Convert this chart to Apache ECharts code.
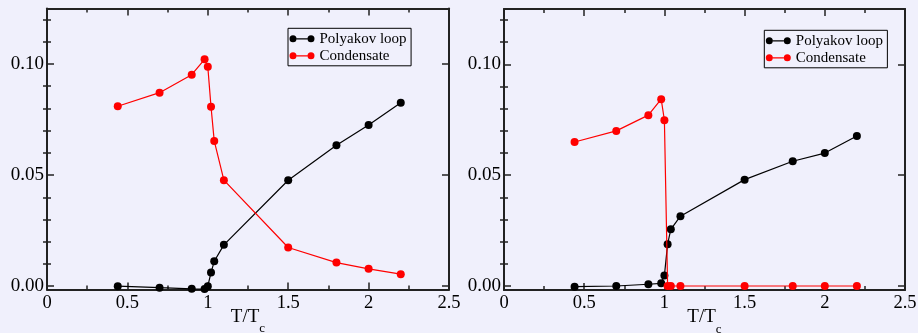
<!DOCTYPE html>
<html>
<head>
<meta charset="utf-8">
<script src="https://cdn.jsdelivr.net/npm/echarts@6/dist/echarts.min.js"></script>
<style>
html,body{margin:0;padding:0;background:#f0f0fc;}
#chart{width:918px;height:333px;}
</style>
</head>
<body>
<div id="chart"></div>
<script>
// ---- data ----
const temps = [0.44, 0.7, 0.9, 0.98, 1.0, 1.02, 1.04, 1.1, 1.5, 1.8, 2.0, 2.2];
const polyakovLeft = [0.0000, -0.0007, -0.0012, -0.0013, 0.0000, 0.0061, 0.0112, 0.0186, 0.0477, 0.0634, 0.0726, 0.0826];
const condensateLeft = [0.0810, 0.0871, 0.0952, 0.1021, 0.0988, 0.0808, 0.0654, 0.0477, 0.0174, 0.0106, 0.0078, 0.0054];
const polyakovRight = [-0.0003, 0.0000, 0.0008, 0.0012, 0.0047, 0.0189, 0.0256, 0.0315, 0.0480, 0.0563, 0.0600, 0.0677];
const condensateRight = [0.0650, 0.0700, 0.0771, 0.0843, 0.0748, 0, 0, 0, 0, 0, 0, 0];
const xTicks = [0, 0.5, 1, 1.5, 2, 2.5];
const yMajorTicks = [0, 0.05, 0.10];
const yMinorTicks = [0.01, 0.02, 0.03, 0.04, 0.06, 0.07, 0.08, 0.09, 0.11, 0.12];
const seriesNames = ['Polyakov loop', 'Condensate'];

// ---- styling ----
const FONT = 'Liberation Serif';
const AX = '#222';
const legendIcon = 'path://M0,3.5A3.5,3.5 0 1 1 7,3.5A3.5,3.5 0 1 1 0,3.5Z M18,3.5A3.5,3.5 0 1 1 25,3.5A3.5,3.5 0 1 1 18,3.5Z M7,2.9L18,2.9L18,4.1L7,4.1Z';

const grids = [
  {left: 47, top: 8.5, width: 402, height: 281, ymin: -0.0015},
  {left: 504, top: 9, width: 401, height: 281, ymin: -0.0018}
];

const option = {
  backgroundColor: '#f0f0fc',
  animation: false,
  grid: grids.map(g => ({left: g.left, top: g.top, width: g.width, height: g.height,
    containLabel: false, outerBoundsMode: 'none'})),
  legend: [
    {left: 288, top: 28.3},
    {left: 764.3, top: 30.3}
  ].map(p => ({
    left: p.left, top: p.top, orient: 'vertical',
    data: seriesNames.map(n => ({name: n, icon: legendIcon})),
    itemWidth: 25, itemHeight: 7, itemGap: 2,
    padding: [3, 4.5, 2.5, 1.5],
    borderColor: '#000', borderWidth: 1, backgroundColor: 'transparent',
    textStyle: {fontFamily: FONT, fontSize: 15, color: '#000'},
    selectedMode: false
  })),
  xAxis: [],
  yAxis: [],
  series: []
};

grids.forEach((g, gi) => {
  const xBase = {
    gridIndex: gi, type: 'value', min: 0, max: 2.5, interval: 0.5,
    axisLine: {show: true, onZero: false, lineStyle: {color: AX, width: 2}},
    axisTick: {show: true, inside: true, length: 7, lineStyle: {color: AX, width: 1.5}},
    minorTick: {show: true, splitNumber: 2, length: 4, lineStyle: {color: AX, width: 1.5}},
    splitLine: {show: false}, minorSplitLine: {show: false}
  };
  option.xAxis.push(Object.assign({}, xBase, {
    position: 'bottom',
    axisLabel: {show: true, fontFamily: FONT, fontSize: 18.5, color: '#000', margin: 4,
      customValues: xTicks, formatter: v => String(v)},
    name: '{t|T/T}{s|c}', nameLocation: 'middle', nameGap: 18, nameMoveOverlap: false,
    nameTextStyle: {fontFamily: FONT, color: '#000', verticalAlign: 'top',
      rich: {t: {fontFamily: FONT, fontSize: 19, color: '#000', verticalAlign: 'top'},
             s: {fontFamily: FONT, fontSize: 13, color: '#000', verticalAlign: 'top', padding: [15, 0, 0, 0]}}}
  }));
  option.xAxis.push(Object.assign({}, xBase, {position: 'top', axisLabel: {show: false}}));

  const yBase = {
    gridIndex: gi, type: 'value', min: g.ymin, max: 0.125,
    splitLine: {show: false}, minorTick: {show: false}
  };
  option.yAxis.push(Object.assign({}, yBase, {
    position: 'left',
    axisLine: {show: true, onZero: false, lineStyle: {color: AX, width: 2}},
    axisTick: {show: true, inside: true, length: 7, customValues: yMajorTicks, lineStyle: {color: AX, width: 1.5}},
    axisLabel: {show: true, fontFamily: FONT, fontSize: 19, color: '#000', margin: 3,
      customValues: yMajorTicks, formatter: v => v.toFixed(2)}
  }));
  option.yAxis.push(Object.assign({}, yBase, {
    position: 'left',
    axisLine: {show: false},
    axisTick: {show: true, inside: true, length: 4, customValues: yMinorTicks, lineStyle: {color: AX, width: 1.5}},
    axisLabel: {show: false}
  }));
  option.yAxis.push(Object.assign({}, yBase, {
    position: 'right',
    axisLine: {show: true, onZero: false, lineStyle: {color: AX, width: 2}},
    axisTick: {show: true, inside: true, length: 7, customValues: yMajorTicks, lineStyle: {color: AX, width: 1.5}},
    axisLabel: {show: false}
  }));
  option.yAxis.push(Object.assign({}, yBase, {
    position: 'right',
    axisLine: {show: false},
    axisTick: {show: true, inside: true, length: 4, customValues: yMinorTicks, lineStyle: {color: AX, width: 1.5}},
    axisLabel: {show: false}
  }));
});

function mkSeries(name, ys, color, gi) {
  return {
    name: name, type: 'line', xAxisIndex: gi * 2, yAxisIndex: gi * 4,
    data: temps.map((t, i) => [t, ys[i]]),
    symbol: 'circle', symbolSize: 8, showAllSymbol: true,
    lineStyle: {color: color, width: 1.2},
    itemStyle: {color: color},
    emphasis: {disabled: true},
    clip: false, z: name === 'Condensate' ? 3 : 2
  };
}
option.series.push(mkSeries('Polyakov loop', polyakovLeft, '#000', 0));
option.series.push(mkSeries('Condensate', condensateLeft, '#ff0000', 0));
option.series.push(mkSeries('Polyakov loop', polyakovRight, '#000', 1));
option.series.push(mkSeries('Condensate', condensateRight, '#ff0000', 1));

const chart = echarts.init(document.getElementById('chart'), null, {renderer: 'canvas'});
chart.setOption(option);
</script>
</body>
</html>
